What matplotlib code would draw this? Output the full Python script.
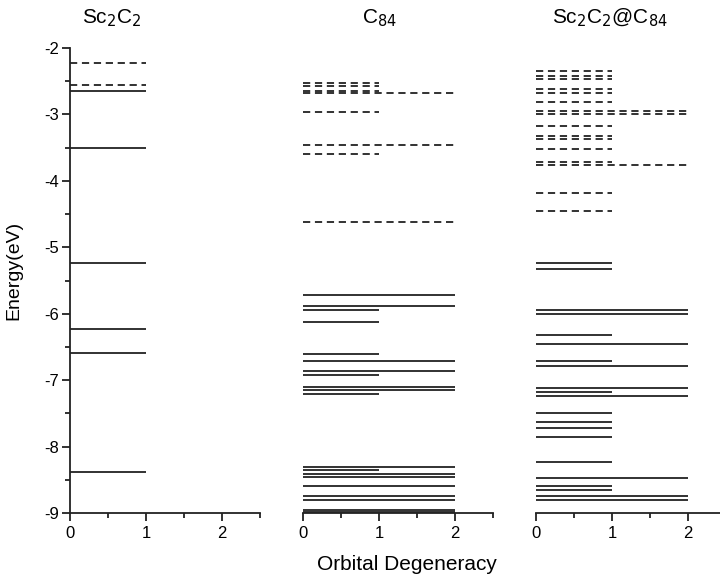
import matplotlib
matplotlib.use("Agg")
import matplotlib.pyplot as plt
from matplotlib.ticker import MultipleLocator

plt.rcParams['font.family'] = ['Liberation Sans', 'DejaVu Sans']

# Sc2C2 levels (eV) and degeneracy
sc2c2_empty_e = [-2.22, -2.56]
sc2c2_empty_d = [1, 1]
sc2c2_occ_e = [-2.64, -3.51, -5.23, -6.23, -6.59, -8.39]
sc2c2_occ_d = [1, 1, 1, 1, 1, 1]

# C84
c84_empty_e = [-2.52, -2.57, -2.64, -2.68, -2.97, -3.46, -3.59, -4.62]
c84_empty_d = [1, 1, 1, 2, 1, 2, 1, 2]
c84_occ_e = [-5.72, -5.89, -5.95, -6.12, -6.60, -6.71, -6.86, -6.93, -7.10, -7.15,
             -7.21, -8.30, -8.36, -8.41, -8.46, -8.60, -8.74, -8.80, -8.96, -8.99]
c84_occ_d = [2, 2, 1, 1, 1, 2, 2, 1, 2, 2,
             1, 2, 1, 2, 2, 2, 2, 2, 2, 2]

# Sc2C2@C84
endo_empty_e = [-2.34, -2.42, -2.47, -2.62, -2.68, -2.81, -2.95, -2.99, -3.17, -3.32,
                -3.37, -3.52, -3.71, -3.76, -4.18, -4.45]
endo_empty_d = [1, 1, 1, 1, 1, 1, 2, 2, 1, 1,
                1, 1, 1, 2, 1, 1]
endo_occ_e = [-5.24, -5.33, -5.95, -6.01, -6.32, -6.46, -6.71, -6.78, -7.12, -7.18,
              -7.24, -7.49, -7.63, -7.72, -7.86, -8.23, -8.48, -8.59, -8.66, -8.75, -8.81]
endo_occ_d = [1, 1, 2, 2, 1, 2, 1, 2, 2, 1,
              2, 1, 1, 1, 1, 1, 2, 1, 1, 2, 2]

titles = [r'Sc$_2$C$_2$', r'C$_{84}$', r'Sc$_2$C$_2$@C$_{84}$']
title_x = [0.55, 1.0, 0.97]
panels = [(sc2c2_empty_e, sc2c2_empty_d, sc2c2_occ_e, sc2c2_occ_d),
          (c84_empty_e, c84_empty_d, c84_occ_e, c84_occ_d),
          (endo_empty_e, endo_empty_d, endo_occ_e, endo_occ_d)]

W, H = 720, 574
fig = plt.figure(figsize=(W / 100, H / 100), dpi=100)
lefts = [70, 303, 536]
col = '#222222'

for i, (ee, ed, oe, od) in enumerate(panels):
    ax = fig.add_axes([lefts[i] / W, 1 - 513 / H, 190 / W, 465 / H])
    ax.set_xlim(0, 2.5)
    ax.set_ylim(-9, -2)
    ax.hlines(ee, 0, ed, colors=col, lw=1.3, linestyles=(0, (4, 2.6)))
    ax.hlines(oe, 0, od, colors=col, lw=1.3)
    for s in ['top', 'right']:
        ax.spines[s].set_visible(False)
    ax.spines['bottom'].set_linewidth(1.3)
    ax.spines['bottom'].set_color(col)
    ax.xaxis.set_major_locator(MultipleLocator(1))
    ax.xaxis.set_minor_locator(MultipleLocator(0.5))
    ax.tick_params(axis='x', which='major', length=6, width=1.3, color=col,
                   labelsize=12, pad=3)
    ax.tick_params(axis='x', which='minor', length=3.5, width=1.3, color=col)
    if i == 0:
        ax.spines['left'].set_linewidth(1.3)
        ax.spines['left'].set_color(col)
        ax.yaxis.set_major_locator(MultipleLocator(1))
        ax.yaxis.set_minor_locator(MultipleLocator(0.5))
        ax.tick_params(axis='y', which='major', length=6, width=1.3, color=col,
                       labelsize=12, pad=2)
        ax.tick_params(axis='y', which='minor', length=3.5, width=1.3, color=col)
        ax.set_yticklabels([str(int(v)) for v in ax.get_yticks()])
    else:
        ax.spines['left'].set_visible(False)
        ax.set_yticks([])
    ax.set_xticklabels([str(int(v)) for v in ax.get_xticks()])
    ax.text(title_x[i], -1.55, titles[i], ha='center', va='center', fontsize=15,
            clip_on=False)

fig.text(407 / W, 1 - 564 / H, 'Orbital Degeneracy', ha='center', va='center', fontsize=15)
fig.text(14 / W, 1 - 270 / H, 'Energy(eV)', ha='center', va='center', fontsize=14,
         rotation=90)

fig.savefig('out.png', dpi=100)
